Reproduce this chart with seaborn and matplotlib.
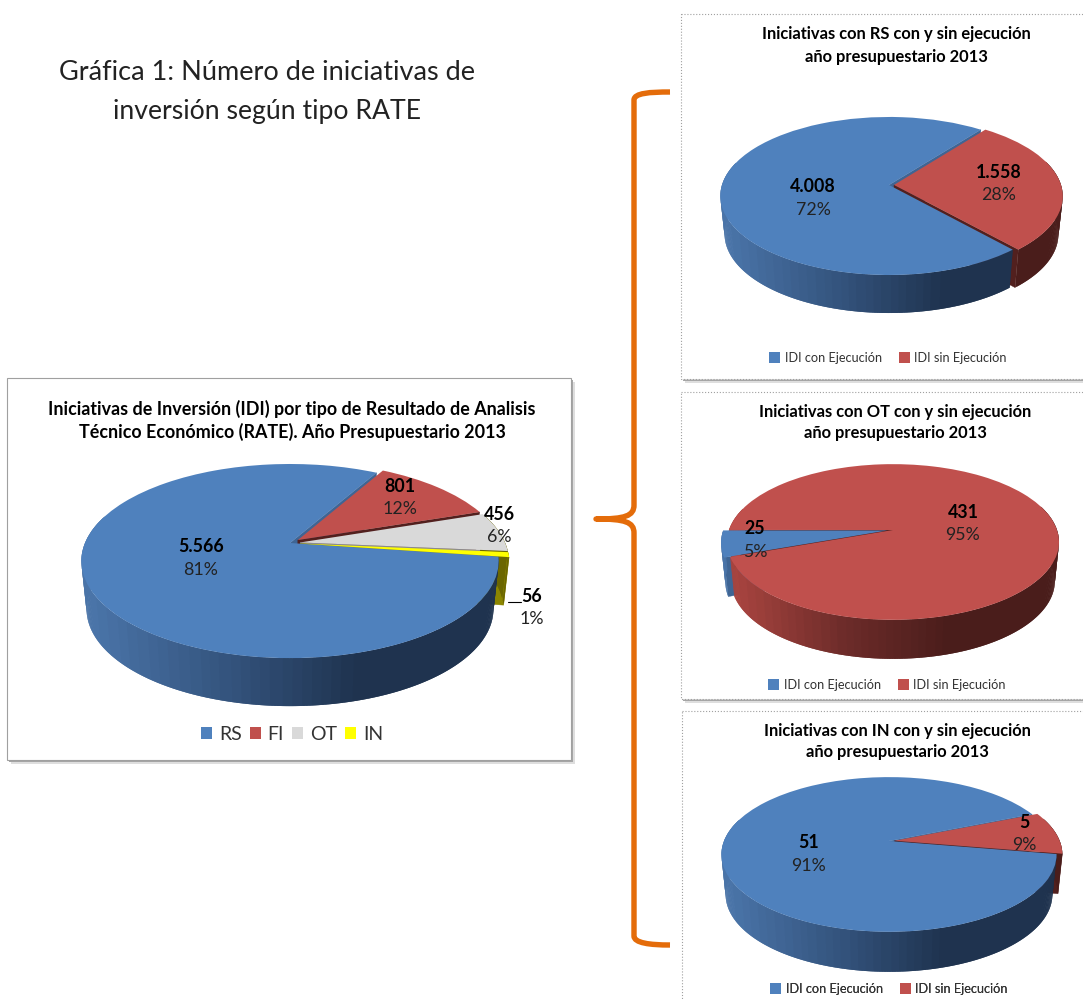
import numpy as np
import matplotlib
matplotlib.use("Agg")
import matplotlib.pyplot as plt
import seaborn as sns
from matplotlib.patches import Rectangle, PathPatch
from matplotlib.path import Path
from matplotlib.transforms import Transform

# data
tipo_labels = ["RS", "FI", "OT", "IN"]
tipo_values = [5566, 801, 456, 56]
tipo_percent = ["81%", "12%", "6%", "1%"]

ejec_labels = ["IDI con Ejecución", "IDI sin Ejecución"]
rs_values = [4008, 1558]
rs_percent = ["72%", "28%"]
ot_values = [25, 431]
ot_percent = ["5%", "95%"]
in_values = [51, 5]
in_percent = ["91%", "9%"]

BLUE, RED, GRAY, YELLOW = "#4f81bd", "#c0504d", "#d9d9d9", "#ffff00"
SIDES = {
    BLUE: sns.blend_palette(["#4a74a8", "#34547e", "#1f334f", "#1f334f"], 40),
    RED: sns.blend_palette(["#a8443f", "#6e2c2a", "#4a1d1b", "#4a1d1b"], 40),
    GRAY: sns.blend_palette(["#8c8c8c", "#8c8c8c", "#6b6600", "#6b6600"], 40),
    YELLOW: sns.blend_palette(["#b0a800", "#6b6600", "#6b6600", "#6b6600"], 40),
}
CUTS = {BLUE: "#3f6594", RED: "#52201e", GRAY: "#8c8c8c", YELLOW: "#8c8600"}


class Tilt(Transform):
    """unit disc -> tilted ellipse in pixel coordinates"""
    input_dims = 2
    output_dims = 2

    def __init__(self, cx, cy, rx, ry, k):
        super().__init__()
        self.cx, self.cy, self.rx, self.ry, self.k = cx, cy, rx, ry, k

    def transform_non_affine(self, values):
        values = np.asarray(values, dtype=float)
        w = 1 + self.k * values[:, 1]
        return np.column_stack((self.cx + self.rx * values[:, 0] / w,
                                self.cy - self.ry * values[:, 1] / w))


sns.set_theme(style="white")
plt.rcParams["font.family"] = ["Lato", "DejaVu Sans"]

fig = plt.figure(figsize=(10.83, 9.99), dpi=100, facecolor="white")
ax = fig.add_axes([0, 0, 1, 1])


def draw_box(x, y, w, h, dotted=False):
    ax.add_patch(Rectangle((x + 4, y + 4), w, h, fc="#dedede", ec="none", zorder=0.05))
    ax.add_patch(Rectangle((x + 2, y + 2), w, h, fc="#a6a6a6", ec="none", zorder=0.1))
    ax.add_patch(Rectangle((x, y), w, h, fc="white", ec="#a0a0a0", lw=0.8,
                           ls=":" if dotted else "-", zorder=0.2))


def draw_pie(values, colors, start, explode, cx, cy, rx, ry, k, depth):
    tilt = Tilt(cx, cy, rx, ry, k)
    wedges, _ = ax.pie(values, colors=colors, startangle=start, counterclock=False,
                       explode=explode, wedgeprops={"linewidth": 0, "zorder": 3})
    for wedge in wedges:
        wedge.set_transform(tilt + ax.transData)

    def drop(xy):
        # lower rim is a little narrower than the top one
        return np.column_stack((cx + (xy[:, 0] - cx) * 0.975, xy[:, 1] + depth))

    # cut faces first, outer wall above them, tops last
    for wedge, color in zip(wedges, colors):
        a, b = np.radians([wedge.theta1, wedge.theta2])
        ox, oy = wedge.center
        # only the faces turned towards the viewer
        for t, facing in ((a, np.cos(a) > 0), (b, np.cos(b) < 0)):
            if not facing:
                continue
            top = tilt.transform_non_affine(np.array([[ox, oy], [ox + np.cos(t), oy + np.sin(t)]]))
            low = drop(top)[::-1]
            ax.fill(*np.vstack((top, low)).T, color=CUTS[color], lw=0.3, zorder=1)

    order = sorted(range(len(wedges)),
                   key=lambda i: -np.sin(np.radians((wedges[i].theta1 + wedges[i].theta2) / 2)))
    for n, i in enumerate(order):
        wedge = wedges[i]
        ox, oy = wedge.center
        angles = np.radians(np.arange(wedge.theta1, wedge.theta2 + 0.75, 0.75).clip(max=wedge.theta2))
        rim = np.column_stack((ox + np.cos(angles), oy + np.sin(angles)))
        top = tilt.transform_non_affine(rim)
        low = drop(top)
        for j in range(len(top) - 1):
            if rim[j, 1] > 0.3:
                continue
            frac = (top[j, 0] - (cx - rx)) / (2 * rx)
            side = SIDES[colors[i]][int(np.clip(frac, 0, 0.999) * 40)]
            # overlap the next strip so no seams show
            quad = np.vstack((top[j:j + 3], low[j:j + 3][::-1]))
            ax.fill(*quad.T, color=side, lw=0, zorder=1.5 + n * 0.1)
    return wedges


def draw_legend(handles, labels, x, y, size, gap, hsize):
    leg = ax.legend(handles, labels, loc="center", bbox_to_anchor=(x, y),
                    bbox_transform=ax.transData, ncol=len(labels), frameon=False,
                    fontsize=size, handlelength=hsize, handleheight=hsize,
                    handletextpad=0.35, columnspacing=gap, labelcolor="#333333")
    ax.add_artist(leg)


def label(x, y, value, percent):
    txt = f"{value:,}".replace(",", ".")
    ax.text(x, y, txt, ha="center", va="center", fontsize=12.8, fontweight="bold",
            color="black", zorder=6)
    ax.text(x, y + 23, percent, ha="center", va="center", fontsize=12.8,
            color="#222222", zorder=6)


def title(x, y1, y2, line1, line2, size):
    ax.text(x, y1, line1, ha="center", va="center", fontsize=size, fontweight="bold",
            color="black", zorder=6)
    ax.text(x, y2, line2, ha="center", va="center", fontsize=size, fontweight="bold",
            color="black", zorder=6)


draw_box(7, 378, 564, 382)
draw_box(681, 14, 420, 365, dotted=True)
draw_box(681, 392, 420, 307, dotted=True)
draw_box(682, 711, 420, 320, dotted=True)

tipo_wedges = draw_pie(tipo_values, [BLUE, RED, GRAY, YELLOW], -8.1, [0, 0.05, 0.05, 0.05],
                       290, 543, 205, 93.7, 0.186, 48)
rs_wedges = draw_pie(rs_values, [BLUE, RED], -48.4, [0, 0.03],
                     889, 185, 167, 77.5, 0.139, 38)
ot_wedges = draw_pie(ot_values, [BLUE, RED], 199.7, [0.035, 0],
                     893, 530, 164, 76, 0.154, 39)
in_wedges = draw_pie(in_values, [BLUE, RED], -9.7, [0, 0.035],
                     889, 841, 165, 75, 0.174, 40)

ax.set_aspect("auto")
ax.set_xlim(0, 1083)
ax.set_ylim(999, 0)
ax.set_axis_off()

ax.text(267, 72, "Gráfica 1: Número de iniciativas de", ha="center", va="center",
        fontsize=19.5, color="#222222")
ax.text(267, 112, "inversión según tipo RATE", ha="center", va="center",
        fontsize=19.2, color="#222222")

title(292, 409, 432, "Iniciativas de Inversión (IDI) por tipo de Resultado de Analisis",
      "Técnico Económico (RATE). Año Presupuestario 2013", 12.9)
title(896, 34, 57, "Iniciativas con RS con y sin ejecución", "año presupuestario 2013", 11.9)
title(895, 412, 433, "Iniciativas con OT con y sin ejecución", "año presupuestario 2013", 11.9)
title(897, 731, 752, "Iniciativas con IN con y sin ejecución", "año presupuestario 2013", 11.9)

for (x, y), v, p in zip([(201, 547), (400, 486), (499, 514), (532, 596)], tipo_values, tipo_percent):
    label(x, y, v, p)
for (x, y), v, p in zip([(813, 187), (999, 172)], rs_values, rs_percent):
    label(x, y, v, p)
for (x, y), v, p in zip([(755, 529), (963, 512)], ot_values, ot_percent):
    label(x, y, v, p)
for (x, y), v, p in zip([(809, 843), (1024, 822)], in_values, in_percent):
    label(x, y, v, p)

# leader of the 56 label
ax.plot([508, 521], [602, 602], color="black", lw=0.8, zorder=6)

draw_legend(tipo_wedges, tipo_labels, 292, 734, 14, 0.4, 0.58)
draw_legend(rs_wedges, ejec_labels, 888, 358, 9.2, 1.35, 0.85)
draw_legend(ot_wedges, ejec_labels, 887, 685, 9.2, 1.35, 0.85)
draw_legend(in_wedges, ejec_labels, 889, 989, 9.2, 1.35, 0.85)

# the main legend is cut off at the bottom in the original
ax.add_patch(Rectangle((150, 740.5), 300, 15, fc="white", ec="none", zorder=7))

# orange brace
brace = Path(
    [(670, 92), (650, 92), (634, 93), (634, 100),
     (634, 505),
     (634, 516), (625, 519), (596, 519),
     (625, 519), (634, 522), (634, 533),
     (634, 936),
     (634, 943), (650, 945), (670, 945)],
    [Path.MOVETO, Path.CURVE4, Path.CURVE4, Path.CURVE4,
     Path.LINETO,
     Path.CURVE4, Path.CURVE4, Path.CURVE4,
     Path.CURVE4, Path.CURVE4, Path.CURVE4,
     Path.LINETO,
     Path.CURVE4, Path.CURVE4, Path.CURVE4])
ax.add_patch(PathPatch(brace, fc="none", ec="#e46c0a", lw=3.9, capstyle="butt",
                       joinstyle="round", zorder=8))

fig.savefig("out.png", dpi=100, facecolor="white")
